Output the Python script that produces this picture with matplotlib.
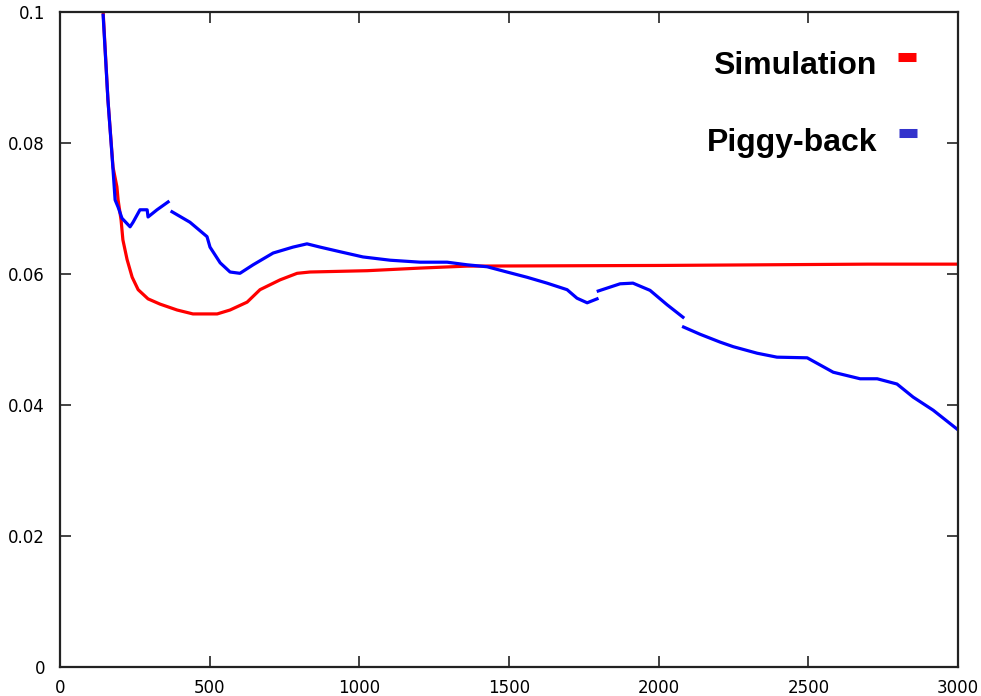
import numpy as np
import matplotlib.pyplot as plt

# Simulation (red)
sim_x = [144, 160, 177, 190, 194, 204, 210, 224, 241, 261, 294, 334, 391, 444, 525,
         568, 625, 668, 735, 792, 835, 1026, 1203, 1360, 2000, 2700, 3000]
sim_y = [0.1, 0.0866, 0.0763, 0.0733, 0.0713, 0.0682, 0.0652, 0.0622, 0.0595, 0.0576,
         0.0562, 0.0554, 0.0545, 0.0539, 0.0539, 0.0545, 0.0557, 0.0576, 0.0591,
         0.0601, 0.0603, 0.0605, 0.0609, 0.0612, 0.0613, 0.0615, 0.0615]

# Piggy-back (blue), nan marks the breaks in the trace
pig_x = [144, 160, 174, 184, 194, 207, 234, 244, 267, 291, 294, 324, 361, np.nan,
         374, 434, 491, 501, 535, 568, 601, 645, 712, 778, 825, 869, 935, 1012, 1103,
         1203, 1293, 1360, 1427, 1493, 1560, 1627, 1694, 1727, 1761, 1794, np.nan,
         1798, 1871, 1914, 1971, 2028, 2081, np.nan,
         2083, 2138, 2205, 2249, 2329, 2395, 2496, 2583, 2673, 2730, 2796, 2850, 2917, 3000]
pig_y = [0.0995, 0.0866, 0.0779, 0.0713, 0.0702, 0.0685, 0.0672, 0.0679, 0.0698, 0.0698,
         0.0687, 0.0698, 0.0710, np.nan,
         0.0695, 0.0679, 0.0657, 0.0641, 0.0617, 0.0603, 0.0601, 0.0614, 0.0632, 0.0641,
         0.0646, 0.0641, 0.0634, 0.0626, 0.0621, 0.0618, 0.0618, 0.0614, 0.0611, 0.0603,
         0.0595, 0.0586, 0.0576, 0.0563, 0.0556, 0.0562, np.nan,
         0.0574, 0.0585, 0.0586, 0.0575, 0.0553, 0.0534, np.nan,
         0.0519, 0.0508, 0.0496, 0.0489, 0.0479, 0.0473, 0.0472, 0.0450, 0.0440, 0.0440,
         0.0432, 0.0412, 0.0392, 0.0362]

xticks = [0, 500, 1000, 1500, 2000, 2500, 3000]
yticks = [0, 0.02, 0.04, 0.06, 0.08, 0.1]
ytick_labels = ['0', '0.02', '0.04', '0.06', '0.08', '0.1']

fig = plt.figure(figsize=(9.81, 6.96), dpi=100)
ax = fig.add_axes([0.0612, 0.0417, 0.9154, 0.9411])

ax.plot(sim_x, sim_y, color='#ff0000', lw=2.3)
ax.plot(pig_x, pig_y, color='#0000ff', lw=2.3)

ax.set_xlim(0, 3000)
ax.set_ylim(0, 0.1)
ax.set_xticks(xticks)
ax.set_xticklabels([str(t) for t in xticks])
ax.set_yticks(yticks)
ax.set_yticklabels(ytick_labels)
ax.tick_params(direction='in', length=8, width=1.2, top=True, right=True,
               labelsize=12, color='#222222')
ax.tick_params(axis='y', pad=10.8)
ax.tick_params(axis='x', pad=8.5)
for s in ax.spines.values():
    s.set_linewidth(1.6)
    s.set_color('#222222')

# key in the upper right, drawn by hand like the original
key = ax.transAxes
ax.text(0.9087, 0.9053, 'Simulation', transform=key, ha='right', va='baseline',
        fontsize=23, fontweight='bold', family='Liberation Sans')
ax.text(0.9098, 0.7878, 'Piggy-back', transform=key, ha='right', va='baseline',
        fontsize=23, fontweight='bold', family='Liberation Sans')
ax.plot([0.9332, 0.9532], [0.9305, 0.9305], transform=key, color='#ff0000',
        lw=6.5, solid_capstyle='butt')
ax.plot([0.9343, 0.9543], [0.8145, 0.8145], transform=key, color='#3333cc',
        lw=6.5, solid_capstyle='butt')

fig.savefig('out.png', dpi=100)
